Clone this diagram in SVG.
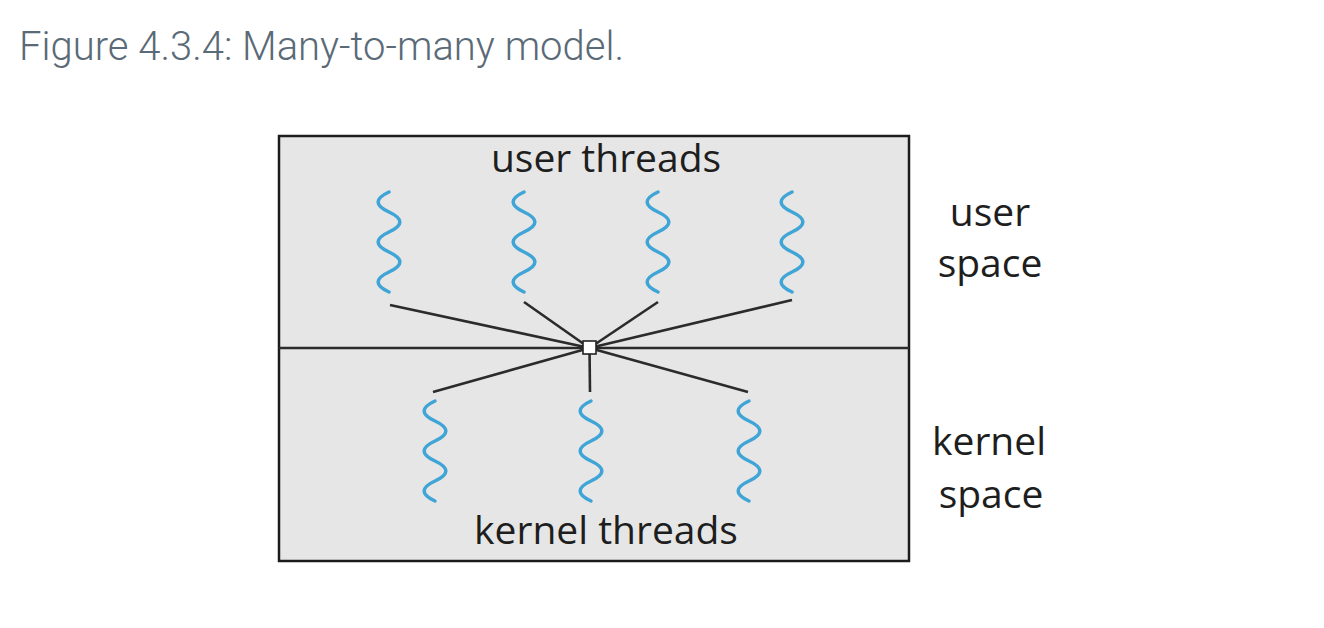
<svg xmlns="http://www.w3.org/2000/svg" xmlns:xlink="http://www.w3.org/1999/xlink" width="1324" height="628" viewBox="0 0 1324 628">
<style>
.title{font-family:Roboto,"Liberation Sans",sans-serif;font-weight:300;font-size:40px;fill:#5a6a76}
.lbl{font-family:"Open Sans","Liberation Sans",sans-serif;font-size:39px;fill:#1e1e1e}
.wave{fill:none;stroke:#3fa4d6;stroke-width:3.5;stroke-linecap:round}
.conn{stroke:#2b2b2b;stroke-width:2.6;fill:none}
</style>
<defs>
<path id="wv" class="wave" d="M0,0 c -14.5,6.7 -14.5,13.3 0,20 s 14.5,13.3 0,20 s -14.5,13.3 0,20 s 14.5,13.3 0,20 s -14.5,13.3 0,20"/>
</defs>
<rect width="1324" height="628" fill="#ffffff"/>
<text class="title" x="19" y="60">Figure 4.3.4: Many-to-many model.</text>

<g id="box">
<rect x="279" y="136" width="630" height="425" fill="#e6e6e6" stroke="#1c1c1c" stroke-width="2.5"/>
</g>

<g id="connectors">
<line class="conn" x1="279" y1="348" x2="909" y2="348"/>
<line class="conn" x1="589.5" y1="348" x2="390" y2="305"/>
<line class="conn" x1="589.5" y1="348" x2="524" y2="302"/>
<line class="conn" x1="589.5" y1="348" x2="658" y2="302"/>
<line class="conn" x1="589.5" y1="348" x2="792" y2="300"/>
<line class="conn" x1="589.5" y1="348" x2="433" y2="392"/>
<line class="conn" x1="589.5" y1="348" x2="590" y2="392"/>
<line class="conn" x1="589.5" y1="348" x2="748" y2="392"/>
</g>

<g id="hub">
<rect x="583" y="341" width="13" height="13" fill="#ffffff" stroke="#222" stroke-width="1.6"/>
</g>

<g id="user-threads">
<use xlink:href="#wv" href="#wv" x="389" y="192"/>
<use xlink:href="#wv" href="#wv" x="524" y="192"/>
<use xlink:href="#wv" href="#wv" x="658" y="192"/>
<use xlink:href="#wv" href="#wv" x="792" y="192"/>
<text class="lbl" x="606" y="172" text-anchor="middle">user threads</text>
</g>

<g id="kernel-threads">
<use xlink:href="#wv" href="#wv" x="435" y="401"/>
<use xlink:href="#wv" href="#wv" x="591" y="401"/>
<use xlink:href="#wv" href="#wv" x="749" y="401"/>
<text class="lbl" x="606" y="544" text-anchor="middle">kernel threads</text>
</g>

<g id="user-space">
<text class="lbl" x="990" y="226" text-anchor="middle">user</text>
<text class="lbl" x="990" y="277" text-anchor="middle">space</text>
</g>

<g id="kernel-space">
<text class="lbl" x="989" y="455" text-anchor="middle">kernel</text>
<text class="lbl" x="991" y="508" text-anchor="middle">space</text>
</g>
</svg>
